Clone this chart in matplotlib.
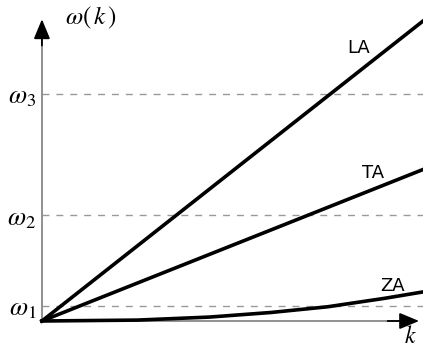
import numpy as np
import matplotlib.pyplot as plt

# wave number (normalised) and branch frequencies
k = [0.0, 1.0]
LA = [0.0, 0.99]
TA = [0.0, 0.50]
k_za = [0.0, 0.25, 0.44, 0.6, 0.75, 0.9, 1.0]
ZA = [0.0, 0.003, 0.013, 0.028, 0.047, 0.075, 0.096]

# characteristic frequencies
w_levels = [0.05, 0.35, 0.75]
w_names = [r'$\omega_1$', r'$\omega_2$', r'$\omega_3$']

plt.rcParams['mathtext.fontset'] = 'stix'

fig = plt.figure(figsize=(4.23, 3.49), dpi=100)
ax = fig.add_axes([0, 0, 1, 1])
ax.set_xlim(-0.110, 1.0)
ax.set_ylim(-0.0924, 1.0594)
ax.axis('off')

# dashed reference levels
for w, name in zip(w_levels, w_names):
    ax.plot([0, 1], [w, w], color='#999999', lw=1.0, dashes=(5, 5))
    ax.text(-0.015, w - 0.01, name, ha='right', va='center', fontsize=19)

# axes with arrows
ax.plot([0, 0], [0, 0.95], color='#888888', lw=1.3)
ax.annotate('', xy=(0, 1.005), xytext=(0, 0.9),
            arrowprops=dict(arrowstyle='-|>,head_length=1.2,head_width=0.5',
                            color='black', lw=1.3))
ax.plot([0, 0.96], [0, 0], color='#888888', lw=1.3)
ax.annotate('', xy=(0.997, 0), xytext=(0.9, 0),
            arrowprops=dict(arrowstyle='-|>,head_length=1.2,head_width=0.5',
                            color='black', lw=1.3))

# dispersion branches
ax.plot(k, LA, color='black', lw=2.6)
ax.plot(k, TA, color='black', lw=2.6)
ax.plot(k_za, ZA, color='black', lw=2.6)

ax.text(0.83, 0.9, 'LA', fontsize=13, ha='center', va='center')
ax.text(0.87, 0.49, 'TA', fontsize=13, ha='center', va='center')
ax.text(0.92, 0.115, 'ZA', fontsize=13, ha='center', va='center')

ax.text(0.06, 1.0, r'$\omega(\,k\,)$', fontsize=18, ha='left', va='center')
ax.text(0.968, -0.05, r'$k$', fontsize=17, ha='center', va='center')

fig.savefig('out.png', dpi=100)
